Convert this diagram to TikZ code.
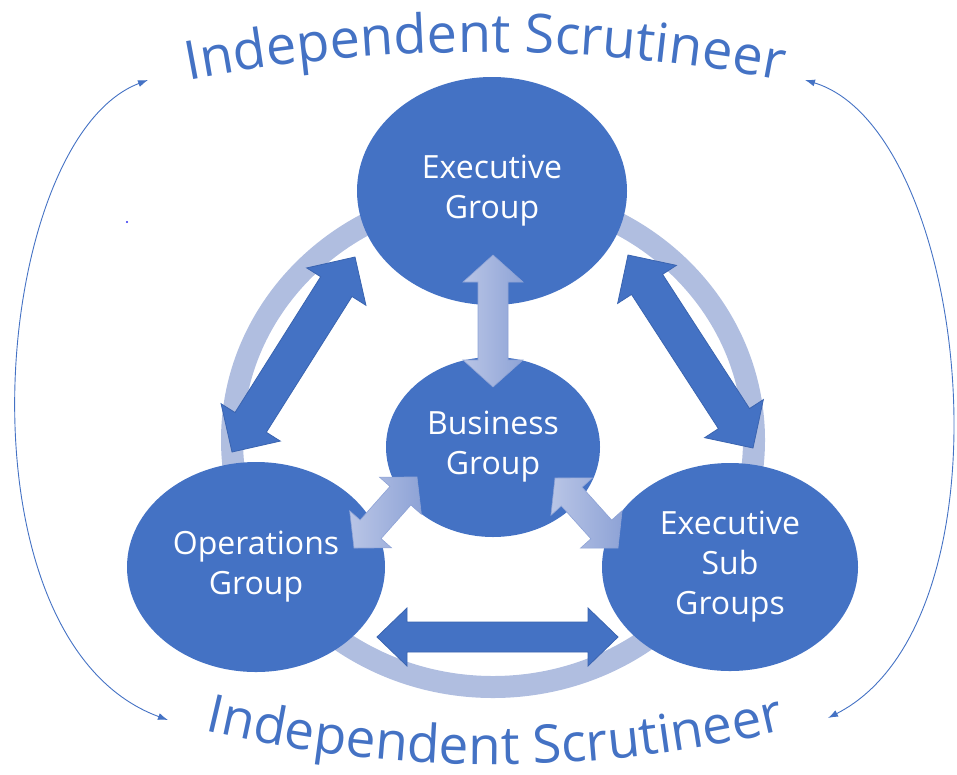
\documentclass[tikz,border=0pt]{standalone}
\usepackage{fontspec}
\setmainfont{Open Sans}
\usetikzlibrary{shapes.geometric,calc,decorations.text,arrows.meta}
\definecolor{mainblue}{HTML}{4472C4}
\definecolor{ringblue}{HTML}{B0BEE0}
\definecolor{lightA}{HTML}{B9C5E6}
\definecolor{lightB}{HTML}{8EA3D6}
\definecolor{darkedge}{HTML}{3A64B0}
\definecolor{dotblue}{HTML}{3030F0}
% double block arrow: #1 style, #2 end A, #3 end B, #4 half shaft, #5 half head, #6 head length
\newcommand{\dblarrow}[6]{%
  \path ($(#2)!#6!(#3)$) coordinate (da1) ($(#3)!#6!(#2)$) coordinate (da2);
  \path[#1] (#2) -- ($(da1)!#5!90:(#3)$) -- ($(da1)!#4!90:(#3)$)
    -- ($(da2)!#4!-90:(#2)$) -- ($(da2)!#5!-90:(#2)$) -- (#3)
    -- ($(da2)!#5!90:(#2)$) -- ($(da2)!#4!90:(#2)$)
    -- ($(da1)!#4!-90:(#3)$) -- ($(da1)!#5!-90:(#3)$) -- cycle;
}
\begin{document}
\begin{tikzpicture}[x=1pt,y=-1pt,
  grp/.style={ellipse, fill=mainblue, text=white, align=center, inner sep=0pt,
    font=\fontsize{32}{40}\selectfont},
  darkarrow/.style={fill=mainblue, draw=darkedge, line width=0.8pt, line join=miter},
  lightarrow/.style={left color=lightA, right color=lightB, draw=lightB, line width=0.6pt},
  thinarrow/.style={draw=mainblue, line width=0.9pt,
    {Latex[length=10pt,width=7pt]}-{Latex[length=10pt,width=7pt]}},
  curvetext/.style={decorate, decoration={text along path, text align=center,
    text color=mainblue}}
]
\useasboundingbox (0,0) rectangle (957,774);

% ring
\draw[ringblue, line width=22pt] (493,440) ellipse [x radius=261pt, y radius=247pt];

% groups
\node[grp, minimum width=270pt, minimum height=228pt] (exec) at (492,191) {Executive\\Group};
\node[grp, minimum width=258pt, minimum height=210pt] (ops) at (256,567) {Operations\\Group};
\node[grp, minimum width=256pt, minimum height=208pt] (sub) at (730,567) {Executive\\Sub\\Groups};
\node[grp, minimum width=214pt, minimum height=180pt] (bus) at (493,447) {Business\\Group};

% arrow end points
\coordinate (eoA) at (232,452);
\coordinate (eoB) at (355,257);
\coordinate (esA) at (753,448);
\coordinate (esB) at (628,255);
\coordinate (osA) at (377,637);
\coordinate (osB) at (618,637);
\coordinate (ebA) at (493,255);
\coordinate (ebB) at (493,387);
\coordinate (boA) at (354,548);
\coordinate (boB) at (417,477);
\coordinate (bsA) at (618,548);
\coordinate (bsB) at (555,478);

\dblarrow{darkarrow}{eoA}{eoB}{18.5pt}{35pt}{35pt}
\dblarrow{darkarrow}{esA}{esB}{18.5pt}{35pt}{35pt}
\dblarrow{darkarrow}{osA}{osB}{15pt}{29pt}{30pt}
\dblarrow{lightarrow}{ebA}{ebB}{15pt}{30pt}{27pt}
\dblarrow{lightarrow}{boA}{boB}{14pt}{28pt}{25pt}
\dblarrow{lightarrow}{bsA}{bsB}{14pt}{28pt}{25pt}

% outer thin arrows
\coordinate (lt) at (148,80);
\coordinate (lb) at (168,720);
\coordinate (rt) at (805,80);
\coordinate (rb) at (828,718);
\draw[thinarrow] (lt) .. controls (-10,140) and (-50,640) .. (lb);
\draw[thinarrow] (rt) .. controls (970,130) and (1020,620) .. (rb);

% stray dot
\fill[dotblue] (127,222) circle (1.2pt);

% curved titles
\path[curvetext, decoration={text={|\fontsize{54}{54}\selectfont|Independent Scrutineer}}]
  (105.7,98.6) arc[start angle=104, end angle=76, radius=1568pt];
\path[curvetext, decoration={text={|\fontsize{53}{53}\selectfont|Independent Scrutineer}}]
  (152.9,716.4) arc[start angle=-106, end angle=-74, radius=1241pt];
\end{tikzpicture}
\end{document}
